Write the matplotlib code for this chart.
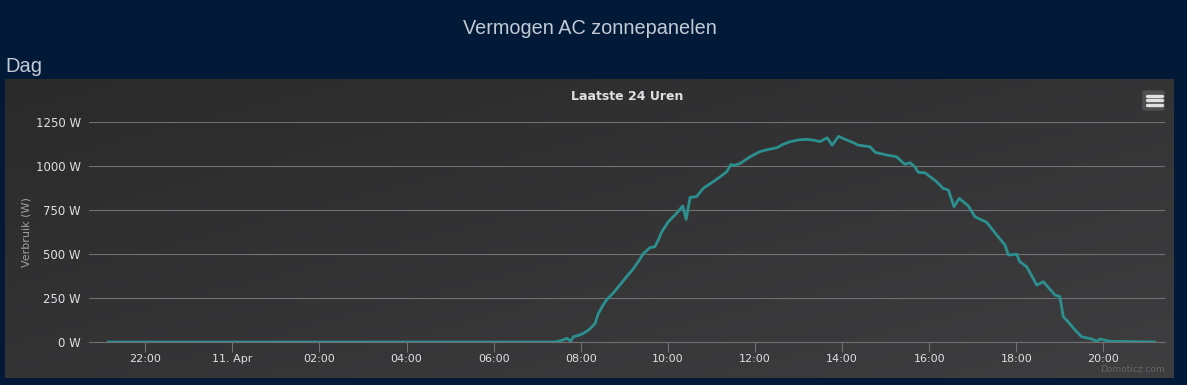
import numpy as np
import matplotlib.pyplot as plt
from matplotlib.patches import FancyBboxPatch
from matplotlib.lines import Line2D

# solar AC power, hours relative to midnight of 11 Apr
hours = [-2.85, 7.40, 7.55, 7.68, 7.77, 7.83, 7.95, 8.06, 8.20, 8.33, 8.40, 8.50,
         8.59, 8.75, 8.90, 9.05, 9.20, 9.32, 9.44, 9.59, 9.70, 9.78, 9.86, 10.01,
         10.20, 10.34, 10.42, 10.51, 10.66, 10.81, 11.04, 11.20, 11.35, 11.45,
         11.52, 11.66, 11.89, 12.11, 12.30, 12.50, 12.65, 12.80, 13.00, 13.19,
         13.35, 13.49, 13.66, 13.77, 13.92, 14.10, 14.26, 14.37, 14.64, 14.76,
         15.02, 15.25, 15.44, 15.56, 15.67, 15.75, 15.90, 16.05, 16.17, 16.32,
         16.44, 16.57, 16.69, 16.90, 17.05, 17.17, 17.32, 17.55, 17.74, 17.82,
         18.01, 18.08, 18.24, 18.47, 18.62, 18.89, 19.00, 19.08, 19.19, 19.35,
         19.50, 19.73, 19.85, 19.92, 20.15, 21.18]
watts = [0, 0, 8, 21, 5, 30, 38, 49, 72, 106, 160, 205,
         239, 280, 325, 371, 415, 457, 504, 537, 542, 580, 627, 684,
         732, 774, 698, 823, 827, 874, 912, 940, 969, 1010,
         1005, 1016, 1054, 1083, 1095, 1105, 1125, 1139, 1150, 1153,
         1148, 1140, 1162, 1120, 1170, 1150, 1134, 1120, 1111, 1079,
         1064, 1054, 1011, 1020, 997, 965, 963, 935, 912, 874,
         865, 770, 817, 774, 713, 698, 681, 609, 552, 495,
         499, 457, 428, 324, 343, 267, 258, 144, 115, 68,
         30, 17, 3, 17, 4, 0]

tick_hours = [-2, 0, 2, 4, 6, 8, 10, 12, 14, 16, 18, 20]
tick_labels = ['22:00', '11. Apr', '02:00', '04:00', '06:00', '08:00',
               '10:00', '12:00', '14:00', '16:00', '18:00', '20:00']
y_ticks = [0, 250, 500, 750, 1000, 1250]

W, H = 1187, 385
fig = plt.figure(figsize=(W / 100, H / 100), dpi=100)
fig.patch.set_facecolor('#021a37')

fig.text(590 / W, 1 - 28 / H, 'Vermogen AC zonnepanelen', ha='center', va='center',
         color='#c3cad4', fontsize=14.3, family='Liberation Sans')
fig.text(5 / W, 1 - 67 / H, 'Dag', ha='left', va='center',
         color='#c3cad4', fontsize=14.5, family='Liberation Sans')

# chart panel with diagonal gradient
bg = fig.add_axes([5 / W, 7 / H, 1169 / W, 299 / H])
u = np.linspace(0, 1, 300)
v = np.linspace(0, 1, 100)
g = (u[None, :] + v[:, None]) / 2
c0 = np.array([0x2a, 0x2a, 0x2b]) / 255
c1 = np.array([0x3e, 0x3e, 0x40]) / 255
img = c0 + (c1 - c0) * g[..., None]
bg.imshow(img, aspect='auto', extent=[0, 1, 0, 1], origin='upper')
bg.set_axis_off()

ax = fig.add_axes([89.3 / W, 43 / H, (1165 - 89.3) / W, 219.7 / H])
ax.set_facecolor('none')
ax.plot(hours, watts, color='#2b908f', lw=2.0, solid_joinstyle='round', zorder=3)
ax.set_xlim(-3.286, 21.415)
ax.set_ylim(0, 1250)
ax.set_yticks(y_ticks)
ax.set_yticklabels([f'{v} W' for v in y_ticks])
ax.set_xticks(tick_hours)
ax.set_xticklabels(tick_labels)
ax.grid(axis='y', color='#707073', lw=0.8)
for s in ['top', 'right', 'left']:
    ax.spines[s].set_visible(False)
ax.spines['bottom'].set_color('#707073')
ax.spines['bottom'].set_linewidth(0.8)
ax.tick_params(axis='x', colors='#707073', length=7, width=0.8, labelcolor='#e0e0e3',
               labelsize=8, pad=2)
ax.tick_params(axis='y', length=0, labelcolor='#e0e0e3', labelsize=8.5, pad=6)
ax.set_ylabel('Verbruik (W)', color='#a0a0a3', fontsize=8, labelpad=3)
ax.set_title('Laatste 24 Uren', color='#e0e0e3', fontsize=9, fontweight='bold', pad=16)

# context menu button
fig.patches.append(FancyBboxPatch((1143 / W, 1 - 110 / H), 21 / W, 19 / H,
                                  boxstyle='round,pad=0,rounding_size=0.003',
                                  transform=fig.transFigure, color='#505053'))
for yy in [95.7, 100.2, 104.8]:
    fig.lines.append(Line2D([1146.5 / W, 1161.5 / W], [1 - yy / H, 1 - yy / H],
                            transform=fig.transFigure, color='#e0e0e0', lw=2.4,
                            solid_capstyle='round'))

fig.text(1165 / W, 1 - 370 / H, 'Domoticz.com', ha='right', va='center',
         color='#666666', fontsize=6.5)

plt.savefig('out.png', dpi=100, facecolor=fig.get_facecolor())
